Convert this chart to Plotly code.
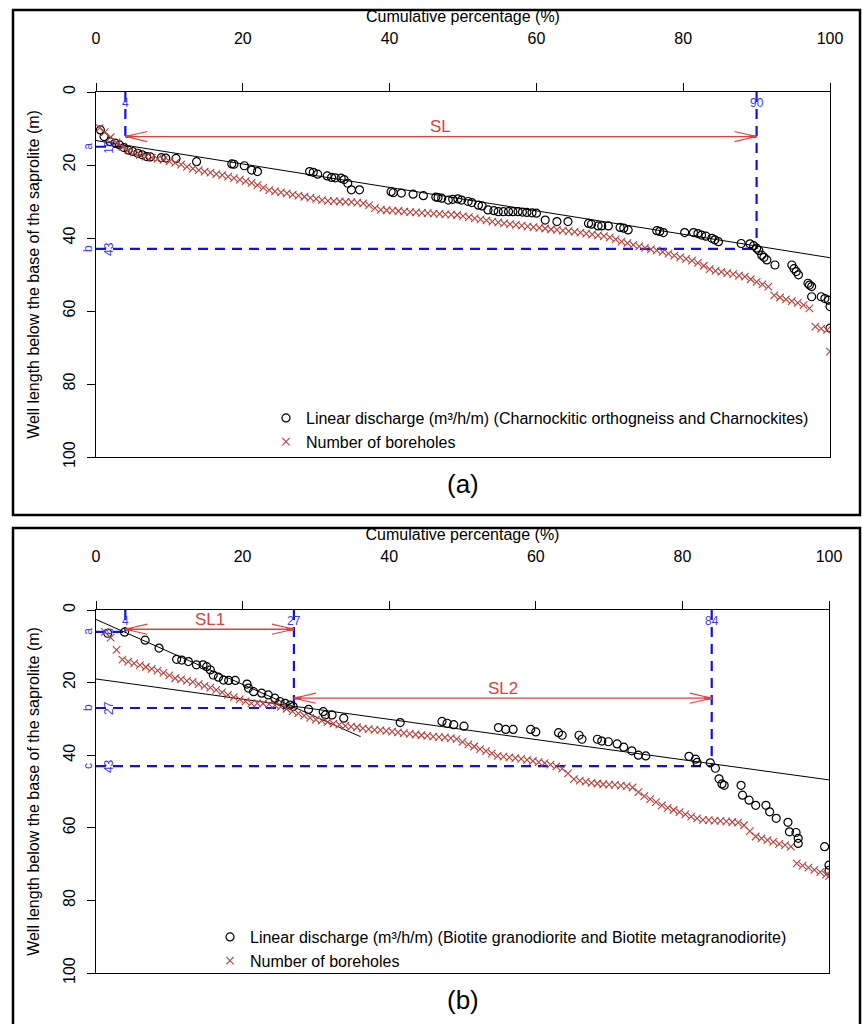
import plotly.graph_objects as go

# ---------------- DATA ----------------
# Panel (a): Charnockitic orthogneiss and Charnockites
a_cross_x = [0.5,1.2,2.0,2.8,3.6,4.4,5.2,6.0,6.8,7.6,8.4,9.2,10.0,10.8,11.6,12.4,13.2,14.0,14.8,15.6,
             16.4,17.2,18.0,18.8,19.6,20.4,21.2,22.0,22.8,23.6,24.4,25.2,26.0,26.8,27.6,28.4,29.2,30.0,30.8,31.6,
             32.4,33.2,34.0,34.8,35.6,36.4,37.2,38.0,38.8,39.6,40.4,41.2,42.0,42.8,43.6,44.4,45.2,46.0,46.8,47.6,
             48.4,49.2,50.0,50.8,51.6,52.4,53.2,54.0,54.8,55.6,56.4,57.2,58.0,58.8,59.6,60.4,61.2,62.0,62.8,63.6,
             64.4,65.2,66.0,66.8,67.6,68.4,69.2,70.0,70.8,71.6,72.4,73.2,74.0,74.8,75.6,76.4,77.2,78.0,78.8,79.6,
             80.4,81.2,82.0,82.8,83.6,84.4,85.2,86.0,86.8,87.6,88.4,89.2,90.0,90.8,91.6,92.4,93.2,94.0,94.8,95.6,
             96.4,97.2,98.0,98.8,99.6,100.0]
a_cross_y = [9.9,11.0,12.4,13.8,15.0,15.9,16.6,17.2,17.7,18.0,18.3,18.6,19.0,19.4,19.9,20.5,21.0,21.4,21.8,22.1,
             22.5,22.8,23.2,23.6,24.0,24.4,24.9,25.5,26.2,26.9,27.2,27.5,27.8,28.1,28.4,28.7,29.0,29.3,29.6,29.8,
             29.9,30.0,30.1,30.2,30.3,30.5,31.0,31.8,32.3,32.4,32.5,32.6,32.8,32.9,33.0,33.1,33.2,33.3,33.4,33.5,
             33.6,33.7,34.0,34.3,34.6,34.9,35.2,35.5,35.7,36.0,36.2,36.4,36.6,36.8,37.0,37.2,37.4,37.6,37.8,38.0,
             38.1,38.3,38.5,38.8,39.0,39.3,39.5,39.8,40.4,41.0,41.4,41.9,42.3,42.7,43.1,43.4,43.8,44.3,44.8,45.3,
             45.7,46.2,46.8,47.6,48.5,49.0,49.3,49.6,49.9,50.3,50.6,51.3,52.0,52.7,53.3,55.7,56.3,56.8,57.3,57.8,
             58.4,59.3,64.3,64.8,65.2,71.1]
a_circ_x = [0.6,1.1,1.9,2.6,3.2,3.8,4.4,5.0,5.7,6.3,6.9,7.4,8.9,9.5,10.9,13.7,18.5,18.8,20.2,21.2,
            22.0,29.1,29.6,30.2,31.5,32.1,32.6,33.4,33.8,34.3,34.8,35.9,40.2,40.5,41.6,43.2,44.6,46.3,46.6,47.1,
            48.0,48.6,49.3,49.8,50.7,51.2,52.1,52.6,53.4,54.2,54.8,55.5,56.2,56.8,57.5,58.1,58.7,59.4,60.0,61.2,
            62.8,64.3,67.1,67.5,68.4,68.9,69.8,71.4,71.9,72.5,76.4,76.8,77.3,80.2,81.4,82.0,82.5,83.1,83.9,84.3,
            84.8,87.9,89.1,89.6,90.0,90.3,90.7,91.0,91.4,92.5,94.8,95.1,95.4,95.7,97.0,97.2,97.5,97.5,98.8,99.3,
            99.8,100.0,100.0]
a_circ_y = [10.4,12.2,13.6,14.0,14.5,15.2,15.9,16.3,16.8,17.2,17.7,17.8,18.0,18.1,18.2,19.1,19.7,19.8,20.2,21.4,
            21.8,21.8,22.0,22.5,23.0,23.4,23.5,23.6,24.0,25.0,26.8,26.8,27.3,27.6,27.7,28.0,28.4,28.8,28.9,29.1,
            29.6,29.4,29.3,29.6,30.0,30.3,31.0,31.2,32.3,32.5,32.8,32.8,32.8,32.8,32.8,32.9,33.0,33.1,33.2,35.1,
            35.5,35.5,36.0,36.2,36.7,36.7,36.7,37.1,37.3,37.8,38.0,38.2,38.5,38.5,38.5,38.8,39.2,39.5,40.1,40.5,
            41.0,41.5,41.6,42.1,42.8,43.4,44.7,45.3,46.0,47.4,47.4,48.4,49.2,50.1,52.4,52.9,53.3,56.1,56.1,56.6,
            57.0,58.8,64.7]
a_fit_x = [0, 100]
a_fit_y = [13.3, 45.4]
a_break_x = [4, 90]          # cumulative % at the limits
a_break_y = [15, 43]         # depths a, b
a_break_lbl = ["a", "b"]
a_sl = [("SL", 4, 90, 12.2)]

# Panel (b): Biotite granodiorite and Biotite metagranodiorite
b_cross_x = [1.2,2.0,2.8,3.6,4.4,5.2,6.0,6.8,7.6,8.4,9.2,10.0,10.8,11.6,12.4,13.2,14.0,14.8,15.6,16.4,
             17.2,18.0,18.8,19.6,20.4,21.2,22.0,22.8,23.6,24.4,25.2,26.0,26.8,27.6,28.4,29.2,30.0,30.8,31.6,32.4,
             33.2,34.0,34.8,35.6,36.4,37.2,38.0,38.8,39.6,40.4,41.2,42.0,42.8,43.6,44.4,45.2,46.0,46.8,47.6,48.4,
             49.2,50.0,50.8,51.6,52.4,53.2,54.0,54.8,55.6,56.4,57.2,58.0,58.8,59.6,60.4,61.2,62.0,62.8,63.6,64.4,
             65.2,66.0,66.8,67.6,68.4,69.2,70.0,70.8,71.6,72.4,73.2,74.0,74.8,75.6,76.4,77.2,78.0,78.8,79.6,80.4,
             81.2,82.0,82.8,83.6,84.4,85.2,86.0,86.8,87.6,88.4,89.2,90.0,90.8,91.6,92.4,93.2,94.0,94.8,95.6,96.4,
             97.2,98.0,98.8,99.6,100.0]
b_cross_y = [6.0,7.6,11.0,13.7,14.2,14.7,15.2,15.7,16.2,16.7,17.3,18.0,18.8,19.1,19.5,19.8,20.4,20.9,21.4,22.0,
             22.7,23.4,24.0,24.6,25.2,25.7,25.7,25.8,25.9,26.2,26.7,27.2,27.9,28.5,29.1,29.7,30.2,30.5,30.9,31.3,
             31.6,31.9,32.1,32.3,32.6,32.8,33.0,33.1,33.3,33.5,33.7,33.9,34.1,34.3,34.5,34.7,34.9,35.0,35.1,35.3,
             35.6,36.3,37.0,37.6,38.3,38.9,39.5,40.2,40.4,40.6,40.8,41.0,41.3,41.6,41.9,42.2,42.6,43.1,43.7,45.0,
             46.6,47.0,47.3,47.6,47.8,48.0,48.1,48.2,48.4,48.5,48.9,50.2,51.3,52.1,52.9,53.8,54.5,55.1,55.7,56.3,
             56.9,57.4,57.8,57.9,58.0,58.1,58.2,58.4,58.6,59.3,60.9,62.4,62.9,63.4,63.9,64.4,64.8,65.2,69.8,70.4,
             71.0,71.6,72.2,72.9,73.3]
b_circ_x = [1.6,3.9,6.7,8.6,11.0,11.7,12.6,13.7,14.6,15.1,15.6,16.0,16.7,17.4,18.1,19.0,20.6,20.8,21.5,22.6,
            23.5,24.4,25.1,25.8,26.5,26.9,29.0,31.0,31.3,32.2,33.8,41.5,47.2,47.9,48.8,50.2,54.9,55.9,56.9,59.3,
            60.0,63.1,63.6,65.9,66.3,68.4,69.0,69.9,71.1,72.0,73.1,74.0,75.0,80.9,81.8,82.0,83.8,84.5,85.0,85.4,
            85.7,88.0,88.2,89.1,90.0,91.4,91.9,92.8,94.4,94.6,95.5,95.8,95.8,99.4,100.0,100.0]
b_circ_y = [6.4,6.1,8.3,10.5,13.6,13.8,14.2,15.1,15.1,15.6,16.5,17.9,18.5,19.3,19.4,19.4,20.4,21.5,22.5,22.9,
            23.4,24.3,25.2,25.7,26.2,26.6,27.4,28.0,28.9,28.9,29.8,31.0,30.7,31.2,31.6,32.0,32.4,32.9,32.9,32.9,
            33.6,33.8,34.5,34.5,35.6,35.6,36.1,36.3,36.9,37.8,38.8,40.0,40.2,40.3,41.1,42.0,42.1,43.6,46.5,47.9,
            48.3,48.3,51.0,52.4,53.8,53.8,55.6,57.4,58.5,61.1,61.3,62.9,64.3,65.2,70.3,71.7]
b_fit1_x = [0, 36.1]
b_fit1_y = [2.6, 34.9]
b_fit2_x = [0, 100]
b_fit2_y = [19.0, 46.8]
b_break_x = [4, 27, 84]
b_break_y = [6, 27, 43]
b_break_lbl = ["a", "b", "c"]
b_sl = [("SL1", 4, 27, 5.3), ("SL2", 27, 84, 24.3)]

x_ticks = [0, 20, 40, 60, 80, 100]
y_ticks = [0, 20, 40, 60, 80, 100]

legend_a = ["Linear discharge (m³/h/m) (Charnockitic orthogneiss and Charnockites)", "Number of boreholes"]
legend_b = ["Linear discharge (m³/h/m) (Biotite granodiorite and Biotite metagranodiorite)", "Number of boreholes"]

# ---------------- STYLE ----------------
W, H = 862, 1024
FONT = "Liberation Sans, Arial, sans-serif"
BLUE = "#1010E8"
BLUE_TXT = "#3A3AF0"
RED = "#E0403A"
CROSS = "#B8403A"
FS = 16

def px(xp):
    return xp / W

def py(yp):
    return 1 - yp / H

fig = go.Figure()

panels = [
    dict(xa="x", ya="y", leg="legend", cx=a_cross_x, cy=a_cross_y, ox=a_circ_x, oy=a_circ_y,
         fits=[(a_fit_x, a_fit_y)], bx=a_break_x, by=a_break_y, bl=a_break_lbl, sl=a_sl, names=legend_a),
    dict(xa="x2", ya="y2", leg="legend2", cx=b_cross_x, cy=b_cross_y, ox=b_circ_x, oy=b_circ_y,
         fits=[(b_fit1_x, b_fit1_y), (b_fit2_x, b_fit2_y)], bx=b_break_x, by=b_break_y, bl=b_break_lbl,
         sl=b_sl, names=legend_b),
]

shapes = []
annotations = []

for p in panels:
    xa, ya = p["xa"], p["ya"]
    for bx, by in zip(p["bx"], p["by"]):
        fig.add_trace(go.Scatter(x=[bx, bx], y=[0, by], mode="lines", xaxis=xa, yaxis=ya,
                                 line=dict(color=BLUE, width=2.2, dash="10px,7px"), showlegend=False,
                                 hoverinfo="skip"))
        fig.add_trace(go.Scatter(x=[0, bx], y=[by, by], mode="lines", xaxis=xa, yaxis=ya,
                                 line=dict(color=BLUE, width=2.2, dash="10px,7px"), showlegend=False,
                                 hoverinfo="skip"))
    for fx, fy in p["fits"]:
        fig.add_trace(go.Scatter(x=fx, y=fy, mode="lines", xaxis=xa, yaxis=ya,
                                 line=dict(color="black", width=1), showlegend=False, hoverinfo="skip"))
    fig.add_trace(go.Scatter(x=p["ox"], y=p["oy"], mode="markers", xaxis=xa, yaxis=ya, name=p["names"][0],
                             legend=p["leg"],
                             marker=dict(symbol="circle-open", size=8, color="black", line=dict(width=1.2))))
    fig.add_trace(go.Scatter(x=p["cx"], y=p["cy"], mode="markers", xaxis=xa, yaxis=ya, name=p["names"][1],
                             legend=p["leg"],
                             marker=dict(symbol="x-thin-open", size=7.5, color=CROSS, line=dict(width=1.1, color=CROSS))))

    xref, yref = xa, ya
    for lbl, x0, x1, yy in p["sl"]:
        shapes.append(dict(type="line", xref=xref, yref=yref, x0=x0, x1=x1, y0=yy, y1=yy,
                           line=dict(color=RED, width=1.3)))
        for tip, d in ((x0, 1), (x1, -1)):
            for s in (-1, 1):
                shapes.append(dict(type="line", xref=xref, yref=yref, x0=tip, y0=yy,
                                   x1=tip + d * 3.0, y1=yy + s * 1.4, line=dict(color=RED, width=1.1)))
            shapes.append(dict(type="line", xref=xref, yref=yref, x0=tip, y0=yy,
                               x1=tip + d * 1.0, y1=yy, line=dict(color=RED, width=3)))
        annotations.append(dict(xref=xref, yref=yref, x=(x0 + x1) / 2, y=yy, yshift=10, text=lbl,
                                showarrow=False, font=dict(family=FONT, size=17, color=RED)))
    for bx, by, bl in zip(p["bx"], p["by"], p["bl"]):
        annotations.append(dict(xref=xref, yref=yref, x=bx, y=0, yshift=-11, text=str(bx),
                                showarrow=False, font=dict(family=FONT, size=12, color=BLUE_TXT)))
        annotations.append(dict(xref=xref, yref=yref, x=0, y=by, xshift=13, text=str(by), textangle=-90,
                                showarrow=False, font=dict(family=FONT, size=12, color=BLUE_TXT)))
        annotations.append(dict(xref=xref, yref=yref, x=0, y=by, xshift=-8, text=bl, textangle=-90,
                                showarrow=False, font=dict(family=FONT, size=12, color=BLUE_TXT)))

shapes.append(dict(type="rect", xref="paper", yref="paper", x0=px(13), x1=px(860), y0=py(515), y1=py(10),
                   line=dict(color="black", width=2.5)))
shapes.append(dict(type="rect", xref="paper", yref="paper", x0=px(13), x1=px(860), y0=py(1030), y1=py(528),
                   line=dict(color="black", width=2.5)))

annotations.append(dict(xref="paper", yref="paper", x=px(463), y=py(484), text="(a)", showarrow=False,
                        xanchor="center", yanchor="middle", font=dict(family=FONT, size=26, color="black")))
annotations.append(dict(xref="paper", yref="paper", x=px(463), y=py(1000), text="(b)", showarrow=False,
                        xanchor="center", yanchor="middle", font=dict(family=FONT, size=26, color="black")))

def xaxis(dom, anchor):
    return dict(domain=dom, range=[0, 100], side="top", anchor=anchor, tickvals=x_ticks, automargin=False,
                ticks="outside", ticklen=8, tickcolor="black", showline=True, linecolor="black",
                linewidth=1, mirror=True, showgrid=False, zeroline=False, ticklabelstandoff=33,
                tickfont=dict(family=FONT, size=FS, color="black"),
                title=dict(text="Cumulative percentage (%)", standoff=2,
                           font=dict(family=FONT, size=FS, color="black")))

def yaxis(dom, anchor):
    return dict(domain=dom, range=[100, 0], anchor=anchor, tickvals=y_ticks, tickangle=-90, automargin=False,
                ticks="outside", ticklen=8, tickcolor="black", showline=True, linecolor="black",
                linewidth=1, mirror=True, showgrid=False, zeroline=False, ticklabelstandoff=6,
                tickfont=dict(family=FONT, size=FS, color="black"),
                title=dict(text="Well length below the base of the saprolite (m)", standoff=16,
                           font=dict(family=FONT, size=FS, color="black")))

fig.update_layout(
    width=W, height=H, margin=dict(l=0, r=0, t=0, b=0),
    paper_bgcolor="white", plot_bgcolor="white",
    xaxis=xaxis([px(96), px(830)], "y"),
    yaxis=yaxis([py(457), py(92)], "x"),
    xaxis2=xaxis([px(96), px(829)], "y2"),
    yaxis2=yaxis([py(973), py(610)], "x2"),
    legend=dict(x=px(266), y=py(401), xanchor="left", yanchor="top", bgcolor="rgba(0,0,0,0)",
                font=dict(family=FONT, size=FS, color="black"), tracegroupgap=0, itemwidth=30),
    legend2=dict(x=px(210), y=py(920), xanchor="left", yanchor="top", bgcolor="rgba(0,0,0,0)",
                 font=dict(family=FONT, size=FS, color="black"), tracegroupgap=0, itemwidth=30),
    shapes=shapes, annotations=annotations, showlegend=True,
)

fig.write_html("out.html", config={"displayModeBar": False},
               post_script="document.body.style.margin='0';document.body.style.overflow='hidden';")
